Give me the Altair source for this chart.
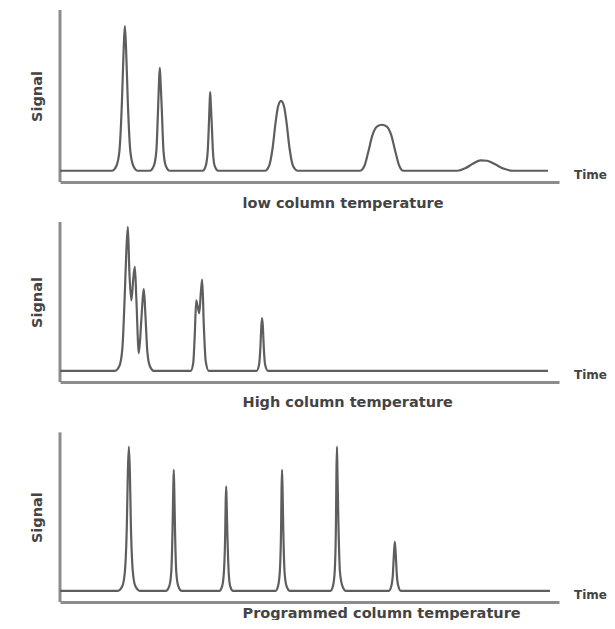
import altair as alt
import pandas as pd

# ---- data (time units 0-100 along the axis, signal units) ----
low_t = [0, 10.4, 11.3, 11.9, 12.4, 12.75, 13.0, 13.25, 13.6, 14.1, 14.7, 15.6,
         18.0, 18.8, 19.3, 19.65, 19.85, 20.0, 20.15, 20.4, 20.75, 21.2, 22.0,
         28.6, 29.2, 29.6, 29.85, 30.0, 30.1, 30.2, 30.4, 30.65, 31.0, 31.7,
         41.1, 41.9, 42.6, 43.2, 43.7, 44.3, 44.9, 45.4, 46.0, 46.7, 47.7,
         60.1, 61.0, 61.8, 62.6, 63.5, 64.5, 65.5, 66.4, 67.2, 68.0, 68.8,
         79.6, 81.2, 82.8, 84.3, 85.6, 87.2, 89.0, 90.8, 97.8]
low_s = [0, 0, 3, 12, 42, 75, 90, 75, 42, 12, 3, 0,
         0, 3, 12, 38, 56, 64, 56, 38, 12, 3, 0,
         0, 3, 12, 30, 43, 49, 43, 30, 12, 3, 0,
         0, 3, 14, 30, 40, 43.5, 40, 30, 14, 3, 0,
         0, 3, 12, 22, 27.5, 28.6, 27.5, 22, 12, 3, 0,
         0, 1.5, 4.5, 6.5, 6.2, 4, 1.2, 0, 0]

high_t = [0, 11.0, 11.9, 12.5, 12.95, 13.3, 13.6, 13.9, 14.3, 14.7, 15.0, 15.3, 15.8,
          16.3, 16.6, 16.8, 17.1, 17.5, 18.0, 18.8,
          26.2, 26.7, 27.0, 27.3, 27.6, 27.9, 28.25, 28.5, 28.8, 29.2, 29.8,
          39.4, 39.9, 40.15, 40.35, 40.5, 40.65, 40.85, 41.1, 41.7, 97.8]
high_s = [0, 0, 3, 14, 45, 75, 90, 62, 44, 58, 65, 45, 11,
          32, 46, 51, 36, 12, 3, 0,
          0, 5, 22, 44, 40, 36, 50, 57, 30, 6, 0,
          0, 4, 14, 28, 33, 28, 14, 4, 0, 0]

prog_t = [0, 11.6, 12.5, 13.0, 13.4, 13.6, 13.8, 14.0, 14.2, 14.6, 15.1, 16.0,
          21.2, 21.9, 22.3, 22.55, 22.7, 22.8, 22.9, 23.05, 23.3, 23.7, 24.4,
          31.9, 32.5, 32.85, 33.1, 33.2, 33.3, 33.4, 33.55, 33.8, 34.1, 34.7,
          43.2, 43.7, 44.05, 44.3, 44.4, 44.5, 44.6, 44.75, 45.0, 45.4, 46.1,
          54.2, 54.7, 55.05, 55.3, 55.4, 55.5, 55.6, 55.8, 56.1, 56.6, 57.3,
          65.9, 66.4, 66.7, 66.9, 67.1, 67.3, 67.5, 67.8, 68.3, 98.2]
prog_s = [0, 0, 3, 12, 42, 75, 90.6, 75, 42, 12, 3, 0,
          0, 3, 12, 38, 64, 76, 64, 38, 12, 3, 0,
          0, 3, 12, 35, 55, 65.6, 55, 35, 12, 3, 0,
          0, 3, 12, 38, 64, 76, 64, 38, 12, 3, 0,
          0, 3, 12, 42, 75, 90.6, 75, 42, 12, 3, 0,
          0, 3, 10, 22, 31, 22, 10, 3, 0, 0]

captions = ["low column temperature", "High column temperature",
            "Programmed column temperature"]
y_label = "Signal"
x_label = "Time"

FONT = "DejaVu Sans"
TEXT_COLOR = "#444444"
AXIS_COLOR = "#8c8c8c"
TRACE_COLOR = "#5e5e5e"


def panel(t, s, caption, height, y_min, y_top, y_max, cap_offset):
    trace = pd.DataFrame({"t": t, "s": s})
    xs = alt.Scale(domain=[0, 100], nice=False, zero=False)
    ys = alt.Scale(domain=[y_min, y_max], nice=False, zero=False)
    px_per_unit = height / (y_max - y_min)
    visible = (y_top - y_min) * px_per_unit
    xax = alt.Axis(domain=True, domainColor=AXIS_COLOR, domainWidth=3,
                   ticks=False, labels=False, grid=False, title=caption,
                   titleAnchor="start", titleX=182, titleY=cap_offset,
                   titleAlign="left", titleBaseline="middle", titleFont=FONT,
                   titleFontSize=14.5, titleFontWeight="bold", titleColor=TEXT_COLOR)
    yax = alt.Axis(domain=False, ticks=False, labels=False, grid=False,
                   title=y_label, titlePadding=16, titleY=height - visible / 2,
                   titleFont=FONT, titleFontSize=14.5, titleFontWeight="bold",
                   titleColor=TEXT_COLOR)
    X = alt.X("t:Q", scale=xs, axis=xax)
    Y = alt.Y("s:Q", scale=ys, axis=yax)

    line = alt.Chart(trace).mark_line(
        interpolate="monotone", color=TRACE_COLOR, strokeWidth=2.2
    ).encode(x=X, y=Y)

    yaxis_line = alt.Chart(pd.DataFrame({"t": [0], "s": [y_min], "s2": [y_top]})).mark_rule(
        color=AXIS_COLOR, strokeWidth=3
    ).encode(x=X, y=Y, y2="s2:Q")

    time_lbl = alt.Chart(pd.DataFrame({"t": [103.0], "s": [y_min + 7 / px_per_unit],
                                       "label": [x_label]})).mark_text(
        align="left", baseline="middle", font=FONT, fontSize=12,
        fontWeight="bold", color=TEXT_COLOR
    ).encode(x=X, y=Y, text="label:N")

    return alt.layer(yaxis_line, line, time_lbl).properties(width=499, height=height)


p1 = panel(low_t, low_s, captions[0], 172, -7, 100, 100, 21)
p2 = panel(high_t, high_s, captions[1], 160, -7, 93, 93, 20)
p3 = panel(prog_t, prog_s, captions[2], 183, -7, 99.6, 108, 11)

chart = alt.vconcat(p1, p2, p3, spacing=10).properties(
    padding={"left": 21, "top": 0, "right": 0, "bottom": 0},
    background="white",
).configure_view(stroke=None)

chart.save("out.html", embed_options={"renderer": "svg", "actions": False})
